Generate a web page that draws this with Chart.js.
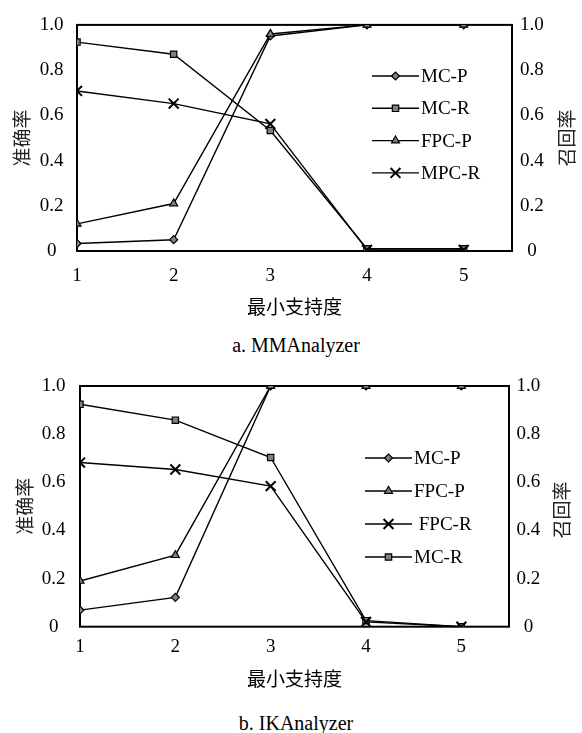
<!DOCTYPE html>
<html>
<head>
<meta charset="utf-8">
<script src="https://cdn.jsdelivr.net/npm/chart.js@4.4.1/dist/chart.umd.min.js"></script>
<style>
  body { margin:0; background:#fff; width:582px; height:733px; position:relative; overflow:hidden; }
  .box { position:absolute; left:0; width:582px; }
  .cap { position:absolute; left:0; width:592px; text-align:center; font:20px "Liberation Serif"; color:#000; line-height:24px; }
</style>
</head>
<body>
<div class="box" style="top:0"><canvas id="c1" width="582" height="318"></canvas></div>
<div class="cap" style="top:333px">a. MMAnalyzer</div>
<div class="box" style="top:360px"><canvas id="c2" width="582" height="330"></canvas></div>
<div class="cap" style="top:711px">b. IKAnalyzer</div>
<script>
// minimum support values on the x axis
const supports = [1, 2, 3, 4, 5];
const yTicks   = [0, 0.2, 0.4, 0.6, 0.8, 1.0];

// a. MMAnalyzer
const mmMcP  = [0.033, 0.05, 0.951, 1.0, 1.0];
const mmMcR  = [0.924, 0.87, 0.533, 0.01, 0.01];
const mmFpcP = [0.12, 0.21, 0.96, 1.0, 1.0];
const mmMpcR = [0.708, 0.652, 0.562, 0.005, 0.005];

// b. IKAnalyzer
const ikMcP  = [0.069, 0.122, 1.0, 1.0, 1.0];
const ikFpcP = [0.19, 0.297, 1.0, 1.0, 1.0];
const ikFpcR = [0.682, 0.653, 0.584, 0.02, 0.0];
const ikMcR  = [0.924, 0.858, 0.703, 0.025, 0.0];

const SERIF = '"Liberation Serif", "Times New Roman", serif';
const CJK = '"Noto Sans CJK SC", sans-serif';
const marks = {
  diamond:  { pointStyle:'rectRot',  pointRadius:4,   pointBorderWidth:1.2 },
  square:   { pointStyle:'rect',     pointRadius:4.5, pointBorderWidth:1.2 },
  triangle: { pointStyle:'triangle', pointRadius:4.6, pointBorderWidth:1.2 },
  cross:    { pointStyle:'crossRot', pointRadius:7,   pointBorderWidth:2 }
};

const series = (label, vals, mark, order) => Object.assign({
  label, order,
  data: vals.map((v, i) => ({ x: supports[i], y: v })),
  borderColor:'#000', borderWidth:1.4, tension:0,
  pointBackgroundColor:'#808080', pointBorderColor:'#000',
  pointHoverRadius:0
}, marks[mark]);

// box round the plot area
const framePlugin = {
  id: 'frame',
  beforeDatasetsDraw(chart) {
    const { ctx, chartArea: a } = chart;
    ctx.save();
    ctx.strokeStyle = '#000'; ctx.lineWidth = 2;
    ctx.strokeRect(a.left, a.top, a.right - a.left, a.bottom - a.top);
    ctx.restore();
  }
};

// right axis title reads bottom-to-top like the left one
const sideTitle = {
  id: 'sideTitle',
  afterDraw(chart, args, o) {
    const ctx = chart.ctx;
    ctx.save();
    ctx.translate(o.x, o.y); ctx.rotate(-Math.PI / 2);
    ctx.font = '19px ' + CJK;
    ctx.fillStyle = '#222'; ctx.textAlign = 'center'; ctx.textBaseline = 'middle';
    ctx.fillText(o.text, 0, 0);
    ctx.restore();
  }
};

// legend placed inside the plot, line through marker
const boxLegend = {
  id: 'boxLegend',
  afterDraw(chart, args, o) {
    const ctx = chart.ctx;
    ctx.save();
    o.items.forEach((idx, k) => {
      const ds = chart.data.datasets[idx];
      const y = o.y + k * o.dy;
      ctx.strokeStyle = '#000'; ctx.lineWidth = 1.4;
      ctx.beginPath(); ctx.moveTo(o.x, y); ctx.lineTo(o.x + o.len, y); ctx.stroke();
      ctx.fillStyle = '#808080'; ctx.lineWidth = ds.pointBorderWidth;
      Chart.helpers.drawPoint(ctx, { pointStyle: ds.pointStyle, radius: ds.pointRadius, rotation: 0, borderWidth: ds.pointBorderWidth }, o.x + o.len / 2, y);
      ctx.fillStyle = '#000';
      ctx.font = '19px ' + SERIF;
      ctx.textAlign = 'left'; ctx.textBaseline = 'middle';
      ctx.fillText(ds.label, o.x + o.len + 2, y + 1);
    });
    ctx.restore();
  }
};

function yAxis(pos, pad, width, title) {
  return {
    type:'linear', position:pos, min:0, max:1,
    grid:{ display:false, drawTicks:false }, border:{ display:false },
    afterBuildTicks: s => { s.ticks = yTicks.map(v => ({ value: v })); },
    ticks:{ padding:pad, crossAlign:'center', color:'#000', font:{ family:SERIF, size:19 },
            callback: v => v === 0 ? '0' : v.toFixed(1) },
    title: title ? { display:true, text:title.text, color:'#222', font:{ family:CJK, size:19 },
                     padding:{ top:title.pad, bottom:0 } } : { display:false },
    afterFit: s => { s.width = width; }
  };
}

function xAxis(pad, height) {
  return {
    type:'linear', min:1, max:5.5,
    grid:{ display:false, drawTicks:false }, border:{ display:false },
    afterBuildTicks: s => { s.ticks = supports.map(v => ({ value: v })); },
    ticks:{ padding:pad, color:'#000', font:{ family:SERIF, size:19 } },
    title:{ display:true, text:'最小支持度', color:'#000', font:{ family:CJK, size:19 },
            padding:{ top:0, bottom:0 } },
    afterFit: s => { s.height = height; }
  };
}

function makeChart(id, datasets, cfg) {
  return new Chart(document.getElementById(id), {
    type:'line',
    data:{ datasets },
    plugins:[framePlugin, sideTitle, boxLegend],
    options:{
      responsive:false, animation:false, events:[],
      layout:{ padding:{ top:cfg.top, left:0, right:0, bottom:0 } },
      plugins:{
        legend:{ display:false }, tooltip:{ enabled:false },
        sideTitle:{ text:'召回率', x:cfg.rtX, y:cfg.rtY },
        boxLegend:{ items:cfg.legend, x:cfg.lgX, y:cfg.lgY, dy:cfg.lgDy, len:47 }
      },
      scales:{
        x: xAxis(cfg.xPad, cfg.xH),
        y: yAxis('left', cfg.lPad, cfg.lW, { text:'准确率', pad:cfg.ltPad }),
        y1: yAxis('right', cfg.rPad, cfg.rW, null)
      }
    }
  });
}

function draw() {
  makeChart('c1', [
    series('MC-P',  mmMcP,  'diamond', 3),
    series('MC-R',  mmMcR,  'square', 2),
    series('FPC-P', mmFpcP, 'triangle', 0),
    series('MPC-R', mmMpcR, 'cross', 1)
  ], { top:18, xPad:14, xH:67, lPad:13.5, lW:77, ltPad:10.6, rPad:8, rW:70,
       rtX:567, rtY:138, legend:[0,1,2,3], lgX:372, lgY:76, lgDy:32.3 });

  makeChart('c2', [
    series('MC-P',   ikMcP,  'diamond', 3),
    series('FPC-P',  ikFpcP, 'triangle', 0),
    series(' FPC-R', ikFpcR, 'cross', 1),
    series('MC-R',   ikMcR,  'square', 2)
  ], { top:26, xPad:9, xH:63.3, lPad:14.4, lW:80, ltPad:13, rPad:7.6, rW:73,
       rtX:562, rtY:150, legend:[0,1,2,3], lgX:365, lgY:98, lgDy:33 });
}

// canvas text needs the fonts loaded first
Promise.all([
  document.fonts.load('19px "Liberation Serif"', '0.1MCP'),
  document.fonts.load('19px "Noto Sans CJK SC"', '最小支持度准确率召回')
]).then(draw, draw);
</script>
</body>
</html>
